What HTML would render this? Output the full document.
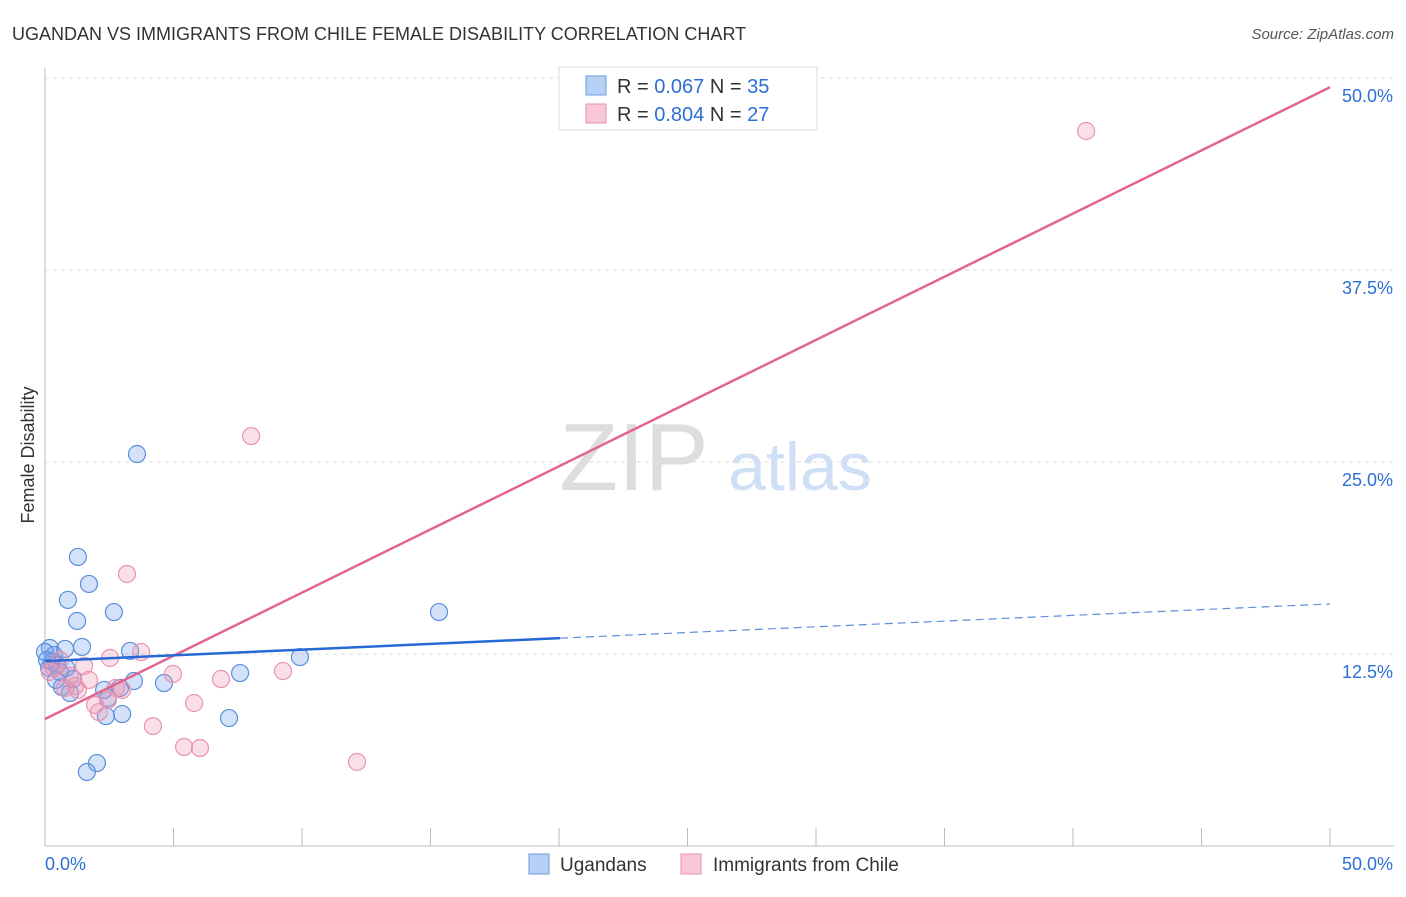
<!DOCTYPE html>
<html><head><meta charset="utf-8"><style>
body{margin:0;background:#fff;font-family:"Liberation Sans",sans-serif}
svg text{font-family:"Liberation Sans",sans-serif}
</style></head><body>
<svg id="c" width="1406" height="892">
<text x="12" y="40" font-size="18" fill="#333">UGANDAN VS IMMIGRANTS FROM CHILE FEMALE DISABILITY CORRELATION CHART</text>
<text x="1394" y="39" font-size="15" fill="#555" font-style="italic" text-anchor="end">Source: ZipAtlas.com</text>
<text x="634" y="490" font-size="96" fill="#ddd" font-family="Liberation Serif" text-anchor="middle">ZIP</text>
<text x="800" y="490" font-size="68" fill="#cfdff5" text-anchor="middle">atlas</text>
<text transform="translate(34,455) rotate(-90)" font-size="18" fill="#333" text-anchor="middle">Female Disability</text>
<g id="grid"></g><g id="pts"></g><g id="lines"></g>
<g>
<rect x="559" y="67" width="258" height="63" fill="#fff" stroke="#ddd"/>
<rect x="586" y="76" width="20" height="19" fill="#b7d0f5" stroke="#6d9be0"/>
<rect x="586" y="104" width="20" height="19" fill="#f8c8d8" stroke="#e892b0"/>
<text x="617" y="93" font-size="20" fill="#333">R = <tspan fill="#2d6fd6">0.067</tspan>   N = <tspan fill="#2d6fd6">35</tspan></text>
<text x="617" y="121" font-size="20" fill="#333">R = <tspan fill="#2d6fd6">0.804</tspan>   N = <tspan fill="#2d6fd6">27</tspan></text>
</g>
<g>
<rect x="529" y="854" width="20" height="20" fill="#b7d0f5" stroke="#6d9be0"/>
<text x="560" y="871" font-size="19" fill="#333">Ugandans</text>
<rect x="681" y="854" width="20" height="20" fill="#f8c8d8" stroke="#e892b0"/>
<text x="713" y="871" font-size="19" fill="#333">Immigrants from Chile</text>
</g>
</svg>
<script>
const yTicks=[12.5,25,37.5,50];
const yTickLabels=["12.5%","25.0%","37.5%","50.0%"];
const xTickLabels=["0.0%","50.0%"];
const blueX=[3.58,1.28,1.71,0.89,2.68,1.25,15.33,0.19,1.44,0.78,3.31,9.92,0.35,0.47,0.82,7.59,0.16,1.09,3.46,4.63,0.66,2.30,0.97,2.45,3.00,2.37,7.16,2.02,1.63,0.27,0.58,0.08,0.43,2.92,0.0];
const blueY=[25.52,18.82,17.06,16.02,15.23,14.65,15.23,12.89,12.96,12.83,12.70,12.30,12.43,11.78,11.59,11.26,11.59,10.87,10.74,10.61,10.35,10.16,9.96,9.64,8.59,8.46,8.33,5.40,4.82,11.98,11.33,12.11,10.81,10.29,12.63];
const pinkX=[40.51,8.02,3.19,3.74,2.53,1.52,4.98,9.26,6.85,1.71,2.76,1.17,3.00,0.78,2.45,5.80,1.95,2.10,4.20,5.41,6.03,12.14,0.35,0.19,0.58,0.97,1.28];
const pinkY=[46.55,26.69,17.71,12.63,12.24,11.72,11.20,11.39,10.87,10.81,10.29,10.42,10.16,10.29,9.51,9.31,9.18,8.72,7.81,6.45,6.38,5.47,11.59,11.33,12.11,11.07,10.16];
const blueTrend=[12.04,15.76];
const pinkTrend=[8.27,49.4];
const NS="http://www.w3.org/2000/svg";
const X=v=>45+v*25.7, Y=v=>846-v*15.36;
function mk(t,a,p){const e=document.createElementNS(NS,t);for(const k in a)e.setAttribute(k,a[k]);document.getElementById(p).appendChild(e);return e;}
let e=mk('line',{x1:45,y1:68,x2:45,y2:846,stroke:'#bbb'},'grid');


e=mk('line',{x1:45,y1:846,x2:1394,y2:846,stroke:'#bbb'},'grid');


for(let i=0;i<=10;i++){e=mk('line',{x1:X(i*5),y1:828,x2:X(i*5),y2:846,stroke:'#bbb'},'grid');

}
yTicks.forEach((v,i)=>{e=mk('line',{x1:45,y1:Y(v),x2:1394,y2:Y(v),stroke:'#ddd','stroke-dasharray':'4,4'},'grid');


e=mk('text',{x:1393,y:Y(v)+24,'font-size':18,fill:'#2d6fd6','text-anchor':'end'},'grid');e.textContent=yTickLabels[i];

});
e=mk('text',{x:45,y:870,'font-size':18,fill:'#2d6fd6'},'grid');e.textContent=xTickLabels[0];


e=mk('text',{x:1393,y:870,'font-size':18,fill:'#2d6fd6','text-anchor':'end'},'grid');e.textContent=xTickLabels[1];


blueX.forEach((v,i)=>{e=mk('circle',{cx:X(v),cy:Y(blueY[i]),r:8.5,fill:'rgba(110,160,235,0.3)',stroke:'#5b8fdc','stroke-width':1.2},'pts');

});
pinkX.forEach((v,i)=>{e=mk('circle',{cx:X(v),cy:Y(pinkY[i]),r:8.5,fill:'rgba(240,150,180,0.3)',stroke:'#e993b1','stroke-width':1.2},'pts');

});
const bAt=x=>blueTrend[0]+(blueTrend[1]-blueTrend[0])*x/50;
e=mk('line',{x1:X(0),y1:Y(pinkTrend[0]),x2:X(50),y2:Y(pinkTrend[1]),stroke:'#e3648f','stroke-width':2.5},'lines');


e=mk('line',{x1:X(0),y1:Y(bAt(0)),x2:X(20.04),y2:Y(bAt(20.04)),stroke:'#2569d4','stroke-width':2.5},'lines');


e=mk('line',{x1:X(20.04),y1:Y(bAt(20.04)),x2:X(50),y2:Y(bAt(50)),stroke:'#5b8fdc','stroke-width':1.2,'stroke-dasharray':'8,5'},'lines');


</script>
</body></html>
